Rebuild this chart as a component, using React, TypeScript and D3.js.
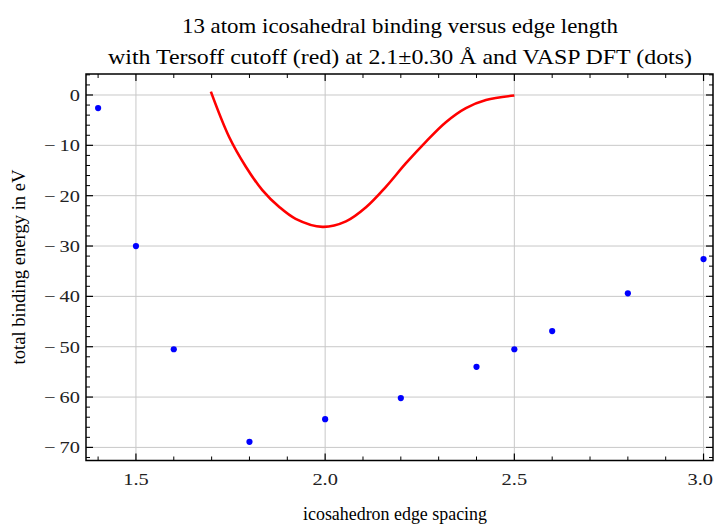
import React from "react";
import * as d3 from "d3";

const dftEdge = [1.4, 1.5, 1.6, 1.8, 2.0, 2.2, 2.4, 2.5, 2.6, 2.8, 3.0];
const dftEnergy = [-2.6, -30, -50.5, -68.9, -64.4, -60.2, -54, -50.5, -46.9, -39.4, -32.6];

const tersoffEdge = [1.698, 1.746, 1.79, 1.834, 1.878, 1.922, 1.993, 2.055, 2.108, 2.161, 2.213, 2.266, 2.319, 2.372, 2.425, 2.5];
const tersoffEnergy = [0.66, -8.3, -14.2, -18.9, -22.2, -24.6, -26.2, -25.1, -22.3, -18.2, -13.6, -9.3, -5.4, -2.6, -1.0, -0.1];

const xMajorTicks = [1.5, 2.0, 2.5, 3.0];
const xTickLabels = ["1.5", "2.0", "2.5", "3.0"];
const yMajorTicks = [0, -10, -20, -30, -40, -50, -60, -70];
const yTickLabels = [
  "0",
  "\u2212\u200910",
  "\u2212\u200920",
  "\u2212\u200930",
  "\u2212\u200940",
  "\u2212\u200950",
  "\u2212\u200960",
  "\u2212\u200970",
];
const xMinorTicks = [1.4, 1.6, 1.7, 1.8, 1.9, 2.1, 2.2, 2.3, 2.4, 2.6, 2.7, 2.8, 2.9];
const yMinorTicks = [4, 2, -2, -4, -6, -8, -12, -14, -16, -18, -22, -24, -26, -28, -32, -34, -36, -38, -42, -44, -46, -48, -52, -54, -56, -58, -62, -64, -66, -68, -72];

const titleLines = [
  "13 atom icosahedral binding versus edge length",
  "with Tersoff cutoff (red) at 2.1\u00b10.30 \u00c5 and VASP DFT (dots)",
];
const xAxisTitle = "icosahedron edge spacing";
const yAxisTitle = "total binding energy in eV";

const W = 714;
const H = 524;
const left = 86, right = 713, top = 74, bottom = 460.5;

export default function App() {
  const x = d3.scaleLinear().domain([1.368, 3.025]).range([left, right]);
  const y = d3.scaleLinear().domain([-72.6, 4.17]).range([bottom, top]);

  const line = d3
    .line<number>()
    .x((_, i) => x(tersoffEdge[i]))
    .y((d) => y(d))
    .curve(d3.curveCatmullRom.alpha(0.5));

  const font = "'Liberation Serif', 'Times New Roman', serif";
  const sx = 1.2;

  return (
    <svg width={W} height={H} style={{ position: "absolute", left: 0, top: 0, background: "#fff" }}>
      <rect x={0} y={0} width={W} height={H} fill="#fff" />
      {/* grid */}
      {xMajorTicks.map((t) => (
        <line key={"gx" + t} x1={x(t)} x2={x(t)} y1={top} y2={bottom} stroke="#c8c8c8" strokeWidth={1} />
      ))}
      {yMajorTicks.map((t) => (
        <line key={"gy" + t} x1={left} x2={right} y1={y(t)} y2={y(t)} stroke="#c8c8c8" strokeWidth={1} />
      ))}
      {/* curve */}
      <path d={line(tersoffEnergy) || ""} fill="none" stroke="#ff0000" strokeWidth={2.6} strokeLinejoin="round" />
      {/* dots */}
      {dftEdge.map((e, i) => (
        <circle key={"d" + i} cx={x(e)} cy={y(dftEnergy[i])} r={3.1} fill="#0000ff" />
      ))}
      {/* frame */}
      <rect x={left} y={top} width={right - left} height={bottom - top} fill="none" stroke="#000" strokeWidth={1.5} />
      {/* ticks */}
      {xMajorTicks.map((t) => (
        <g key={"xt" + t}>
          <line x1={x(t)} x2={x(t)} y1={bottom} y2={bottom - 7} stroke="#000" strokeWidth={1.2} />
          <line x1={x(t)} x2={x(t)} y1={top} y2={top + 7} stroke="#000" strokeWidth={1.2} />
        </g>
      ))}
      {xMinorTicks.map((t) => (
        <g key={"xm" + t}>
          <line x1={x(t)} x2={x(t)} y1={bottom} y2={bottom - 4} stroke="#000" strokeWidth={1} />
          <line x1={x(t)} x2={x(t)} y1={top} y2={top + 4} stroke="#000" strokeWidth={1} />
        </g>
      ))}
      {yMajorTicks.map((t) => (
        <g key={"yt" + t}>
          <line x1={left} x2={left + 7} y1={y(t)} y2={y(t)} stroke="#000" strokeWidth={1.2} />
          <line x1={right} x2={right - 7} y1={y(t)} y2={y(t)} stroke="#000" strokeWidth={1.2} />
        </g>
      ))}
      {yMinorTicks.map((t) => (
        <g key={"ym" + t}>
          <line x1={left} x2={left + 4} y1={y(t)} y2={y(t)} stroke="#000" strokeWidth={1} />
          <line x1={right} x2={right - 4} y1={y(t)} y2={y(t)} stroke="#000" strokeWidth={1} />
        </g>
      ))}
      {/* tick labels */}
      {xMajorTicks.map((t, i) => {
        const last = i === xMajorTicks.length - 1;
        return (
          <text
            key={"xl" + t}
            transform={`translate(${last ? W - 1 : x(t)},485) scale(${sx},1)`}
            textAnchor={last ? "end" : "middle"}
            fontFamily={font}
            fontSize={17}
            fill="#222"
          >
            {xTickLabels[i]}
          </text>
        );
      })}
      {yMajorTicks.map((t, i) => (
        <text
          key={"yl" + t}
          transform={`translate(80,${y(t) + 6}) scale(${sx},1)`}
          textAnchor="end"
          fontFamily={font}
          fontSize={17}
          fill="#222"
        >
          {yTickLabels[i]}
        </text>
      ))}
      {/* titles */}
      <text x={400} y={33} textAnchor="middle" fontFamily={font} fontSize={22} textLength={436} lengthAdjust="spacingAndGlyphs" fill="#000">
        {titleLines[0]}
      </text>
      <text x={400} y={64} textAnchor="middle" fontFamily={font} fontSize={22} textLength={584} lengthAdjust="spacingAndGlyphs" fill="#000">
        {titleLines[1]}
      </text>
      <text x={395} y={520} textAnchor="middle" fontFamily={font} fontSize={18} textLength={184} lengthAdjust="spacingAndGlyphs" fill="#000">
        {xAxisTitle}
      </text>
      <text
        transform={`translate(25,267) rotate(-90)`}
        textAnchor="middle"
        fontFamily={font}
        fontSize={18}
        textLength={195}
        lengthAdjust="spacingAndGlyphs"
        fill="#000"
      >
        {yAxisTitle}
      </text>
    </svg>
  );
}
